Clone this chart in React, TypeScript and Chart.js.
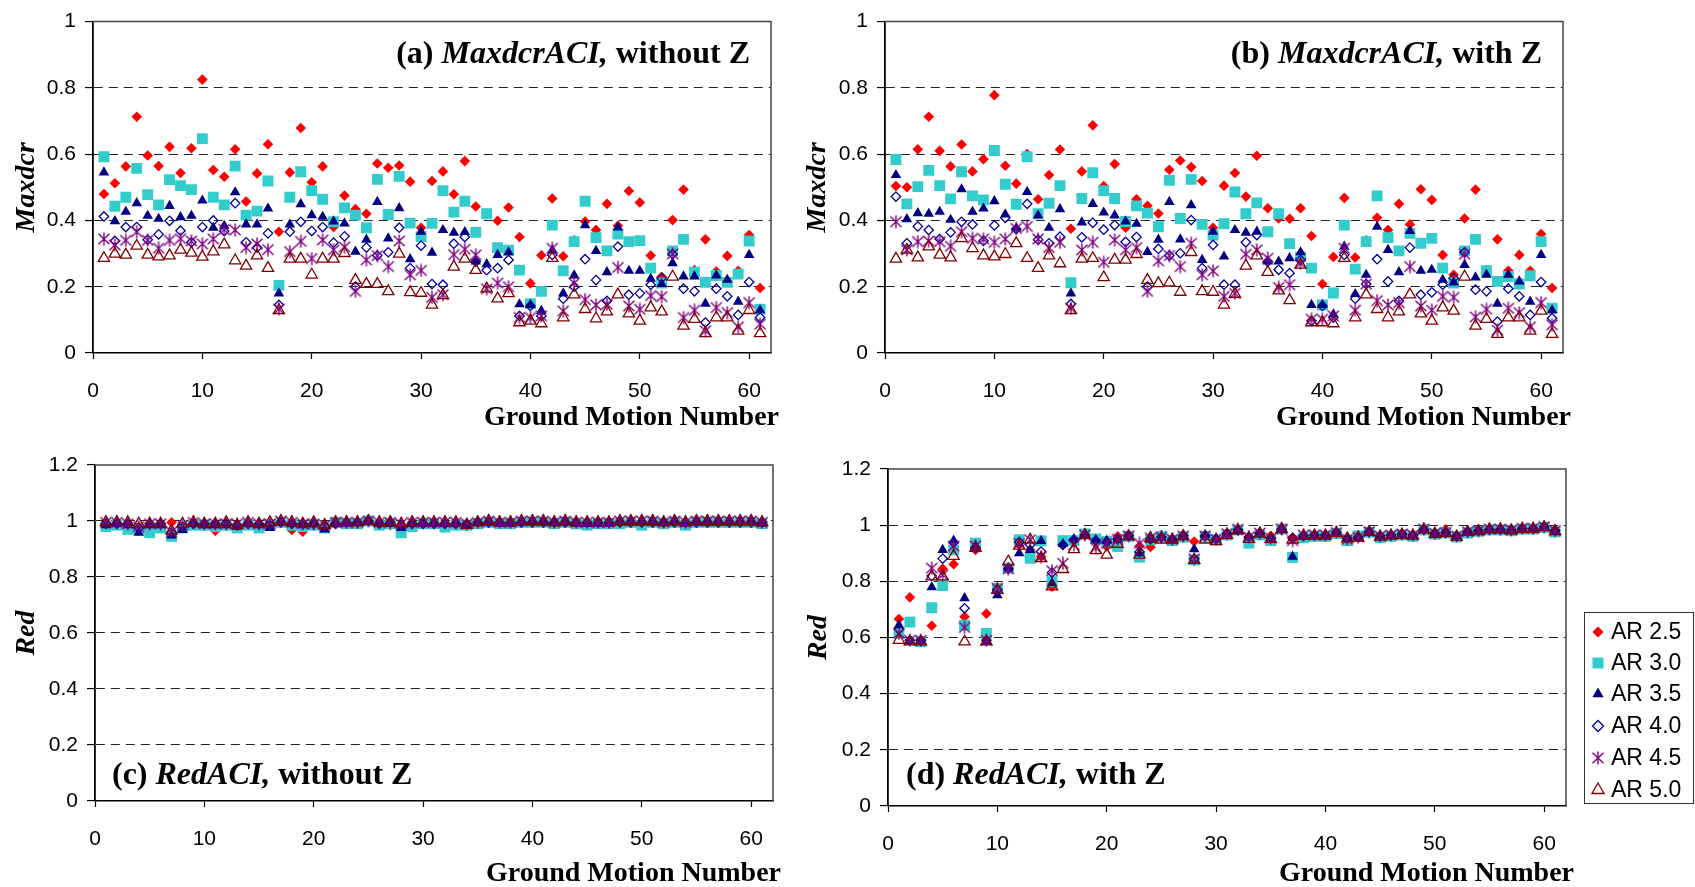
import React, { useEffect, useRef } from 'react';
import { Chart, registerables } from 'chart.js';

Chart.register(...registerables);

// ---------------- data ----------------
const groundMotionNumbers = [
  1, 2, 3, 4, 5, 6, 7, 8, 9, 10, 11, 12, 13, 14, 15, 16, 17, 18, 19, 20,
  21, 22, 23, 24, 25, 26, 27, 28, 29, 30, 31, 32, 33, 34, 35, 36, 37, 38, 39, 40,
  41, 42, 43, 44, 45, 46, 47, 48, 49, 50, 51, 52, 53, 54, 55, 56, 57, 58, 59, 60, 61,
];

const seriesLabels = ['AR 2.5', 'AR 3.0', 'AR 3.5', 'AR 4.0', 'AR 4.5', 'AR 5.0'];

// (a) MaxdcrACI, without Z
const maxdcrNoZ_AR25 = [0.48,0.512,0.563,0.713,0.596,0.564,0.622,0.543,0.618,0.825,0.552,0.532,0.615,0.457,0.542,0.63,0.366,0.545,0.679,0.515,0.563,0.38,0.475,0.434,0.42,0.572,0.559,0.566,0.517,0.378,0.519,0.548,0.479,0.579,0.442,0.42,0.399,0.439,0.35,0.21,0.295,0.466,0.292,0.34,0.397,0.371,0.45,0.384,0.489,0.454,0.294,0.23,0.401,0.493,0.25,0.343,0.246,0.293,0.248,0.356,0.196];
const maxdcrNoZ_AR30 = [0.592,0.443,0.47,0.557,0.478,0.447,0.523,0.505,0.493,0.647,0.47,0.447,0.564,0.416,0.428,0.519,0.204,0.47,0.547,0.49,0.464,0.396,0.438,0.416,0.378,0.524,0.418,0.533,0.392,0.351,0.391,0.49,0.425,0.458,0.364,0.42,0.318,0.31,0.25,0.149,0.186,0.386,0.248,0.336,0.458,0.348,0.308,0.359,0.336,0.339,0.256,0.211,0.308,0.343,0.244,0.213,0.234,0.213,0.238,0.338,0.132];
const maxdcrNoZ_AR35 = [0.545,0.398,0.426,0.452,0.414,0.405,0.444,0.41,0.414,0.46,0.378,0.384,0.485,0.388,0.388,0.436,0.18,0.388,0.449,0.416,0.411,0.397,0.391,0.306,0.342,0.456,0.346,0.437,0.283,0.366,0.303,0.371,0.363,0.365,0.276,0.268,0.296,0.304,0.147,0.145,0.127,0.31,0.18,0.234,0.386,0.308,0.244,0.379,0.248,0.248,0.224,0.208,0.271,0.231,0.231,0.149,0.234,0.221,0.155,0.296,0.129];
const maxdcrNoZ_AR40 = [0.412,0.338,0.38,0.38,0.342,0.358,0.399,0.369,0.334,0.38,0.4,0.368,0.452,0.334,0.318,0.361,0.145,0.366,0.396,0.368,0.38,0.333,0.352,0.2,0.318,0.294,0.304,0.378,0.256,0.324,0.208,0.206,0.33,0.35,0.276,0.25,0.256,0.281,0.112,0.142,0.112,0.296,0.164,0.2,0.283,0.22,0.157,0.321,0.176,0.18,0.206,0.226,0.298,0.194,0.186,0.092,0.194,0.171,0.115,0.214,0.107];
const maxdcrNoZ_AR45 = [0.344,0.326,0.34,0.366,0.34,0.316,0.34,0.345,0.338,0.329,0.344,0.373,0.371,0.318,0.329,0.312,0.133,0.306,0.337,0.285,0.341,0.311,0.32,0.186,0.281,0.294,0.261,0.338,0.236,0.249,0.168,0.176,0.297,0.313,0.296,0.194,0.211,0.2,0.107,0.107,0.112,0.316,0.127,0.211,0.161,0.145,0.147,0.258,0.142,0.132,0.173,0.17,0.299,0.107,0.129,0.067,0.137,0.122,0.079,0.152,0.087];
const maxdcrNoZ_AR50 = [0.286,0.299,0.296,0.323,0.296,0.291,0.294,0.311,0.302,0.29,0.306,0.327,0.279,0.263,0.294,0.256,0.129,0.284,0.284,0.236,0.284,0.284,0.301,0.22,0.208,0.208,0.186,0.299,0.183,0.181,0.145,0.174,0.26,0.284,0.25,0.194,0.164,0.18,0.092,0.097,0.089,0.286,0.107,0.176,0.132,0.104,0.125,0.176,0.119,0.097,0.137,0.125,0.23,0.082,0.102,0.059,0.107,0.107,0.067,0.129,0.059];

// (b) MaxdcrACI, with Z
const maxdcrZ_AR25 = [0.504,0.5,0.615,0.713,0.61,0.563,0.629,0.548,0.585,0.778,0.565,0.511,0.6,0.464,0.537,0.614,0.375,0.548,0.687,0.504,0.57,0.378,0.464,0.444,0.421,0.553,0.581,0.561,0.519,0.378,0.505,0.543,0.472,0.595,0.437,0.406,0.405,0.437,0.353,0.208,0.29,0.468,0.288,0.34,0.408,0.371,0.45,0.388,0.494,0.462,0.296,0.236,0.406,0.493,0.25,0.343,0.248,0.296,0.248,0.359,0.196];
const maxdcrZ_AR30 = [0.584,0.45,0.502,0.551,0.505,0.465,0.547,0.474,0.462,0.611,0.509,0.449,0.592,0.42,0.452,0.505,0.212,0.466,0.544,0.49,0.466,0.397,0.444,0.422,0.381,0.521,0.406,0.524,0.388,0.356,0.39,0.486,0.42,0.453,0.366,0.42,0.33,0.29,0.256,0.145,0.181,0.386,0.253,0.336,0.474,0.348,0.308,0.361,0.331,0.346,0.256,0.211,0.308,0.343,0.248,0.216,0.231,0.208,0.233,0.336,0.135];
const maxdcrZ_AR35 = [0.537,0.404,0.422,0.42,0.426,0.402,0.494,0.426,0.436,0.458,0.418,0.376,0.486,0.415,0.378,0.434,0.18,0.394,0.45,0.424,0.415,0.397,0.39,0.305,0.342,0.456,0.343,0.446,0.281,0.366,0.291,0.371,0.363,0.366,0.276,0.276,0.286,0.304,0.145,0.145,0.117,0.321,0.178,0.236,0.381,0.311,0.244,0.368,0.248,0.251,0.221,0.213,0.266,0.228,0.236,0.149,0.236,0.216,0.155,0.296,0.129];
const maxdcrZ_AR40 = [0.472,0.331,0.382,0.371,0.344,0.364,0.396,0.388,0.338,0.385,0.408,0.374,0.45,0.342,0.331,0.351,0.148,0.349,0.393,0.372,0.386,0.335,0.35,0.2,0.314,0.294,0.301,0.401,0.256,0.326,0.206,0.206,0.334,0.356,0.276,0.251,0.241,0.281,0.097,0.142,0.107,0.296,0.164,0.208,0.283,0.216,0.157,0.318,0.176,0.183,0.206,0.226,0.304,0.191,0.186,0.095,0.194,0.171,0.115,0.214,0.105];
const maxdcrZ_AR45 = [0.396,0.311,0.336,0.338,0.336,0.322,0.366,0.346,0.344,0.334,0.344,0.376,0.382,0.344,0.318,0.334,0.135,0.311,0.334,0.274,0.341,0.311,0.318,0.186,0.278,0.294,0.261,0.331,0.236,0.248,0.171,0.18,0.298,0.311,0.286,0.198,0.206,0.271,0.102,0.102,0.112,0.316,0.129,0.208,0.158,0.145,0.152,0.261,0.142,0.129,0.171,0.168,0.298,0.109,0.132,0.069,0.135,0.122,0.079,0.152,0.085];
const maxdcrZ_AR50 = [0.284,0.311,0.288,0.321,0.296,0.288,0.346,0.316,0.294,0.291,0.298,0.331,0.286,0.256,0.294,0.27,0.129,0.284,0.286,0.228,0.281,0.281,0.298,0.22,0.21,0.212,0.184,0.304,0.186,0.184,0.145,0.178,0.263,0.294,0.244,0.188,0.159,0.266,0.092,0.092,0.089,0.286,0.107,0.176,0.132,0.107,0.125,0.176,0.119,0.097,0.137,0.127,0.23,0.082,0.102,0.057,0.107,0.107,0.067,0.127,0.057];

// (c) RedACI, without Z
const redNoZ_AR25 = [0.99,0.99,0.99,0.98,0.98,0.99,0.995,0.98,0.99,0.985,0.965,0.985,0.98,0.99,0.985,0.99,0.995,0.968,0.962,0.99,0.985,0.99,0.995,0.995,1.0,0.985,0.985,0.985,0.99,0.99,0.99,0.99,0.99,0.985,0.995,1.0,0.995,0.995,1.0,1.0,1.0,0.995,1.0,0.995,0.995,0.995,0.99,0.995,1.0,1.0,1.0,0.995,1.0,0.995,1.0,1.0,1.0,1.0,1.0,1.0,0.995];
const redNoZ_AR30 = [0.98,0.985,0.97,0.97,0.958,0.975,0.945,0.975,0.985,0.985,0.98,0.985,0.975,0.985,0.975,0.985,0.995,0.985,0.98,0.985,0.975,0.995,0.99,0.99,1.0,0.985,0.99,0.958,0.98,0.99,0.99,0.978,0.985,0.985,0.99,0.995,0.99,0.99,0.995,0.995,0.995,0.99,0.995,0.99,0.985,0.99,0.99,0.99,0.995,0.985,0.995,0.99,0.995,0.985,0.995,0.995,0.995,0.995,0.995,0.995,0.99];
const redNoZ_AR35 = [0.985,0.99,0.985,0.958,0.985,0.985,0.948,0.968,0.99,0.985,0.985,0.985,0.98,0.99,0.985,0.975,0.995,0.99,0.985,0.99,0.97,0.99,0.99,0.995,1.0,0.99,0.99,0.975,0.99,0.99,0.99,0.99,0.99,0.985,0.995,0.995,0.99,0.99,0.995,0.995,0.995,0.995,0.995,0.99,0.99,0.99,0.99,0.995,0.995,0.995,0.995,0.995,0.995,0.99,0.995,0.995,0.995,0.995,0.995,0.995,0.99];
const redNoZ_AR40 = [0.99,0.99,0.99,0.975,0.99,0.99,0.958,0.98,0.99,0.99,0.99,0.99,0.985,0.99,0.99,0.985,0.995,0.99,0.99,0.99,0.98,0.99,0.995,0.995,1.0,0.99,0.995,0.985,0.99,0.99,0.99,0.99,0.99,0.99,0.995,0.995,0.995,0.995,0.995,0.995,0.995,0.995,0.995,0.995,0.995,0.995,0.995,0.995,0.995,0.995,0.995,0.995,0.995,0.995,0.995,0.995,0.995,0.995,0.995,0.995,0.995];
const redNoZ_AR45 = [0.995,0.995,0.99,0.98,0.99,0.99,0.962,0.985,0.995,0.99,0.99,0.99,0.99,0.995,0.99,0.99,1.0,0.995,0.99,0.99,0.985,0.995,0.995,0.995,1.0,0.995,0.995,0.99,0.995,0.995,0.995,0.995,0.995,0.99,0.995,1.0,0.995,0.995,1.0,1.0,1.0,0.995,1.0,0.995,0.995,0.995,0.995,1.0,1.0,1.0,1.0,0.995,1.0,0.995,1.0,1.0,1.0,1.0,1.0,1.0,0.995];
const redNoZ_AR50 = [0.995,0.995,0.995,0.99,0.99,0.99,0.965,0.99,0.995,0.99,0.99,0.995,0.985,0.995,0.99,0.995,1.0,0.995,0.99,0.995,0.985,0.995,0.995,0.995,1.0,0.995,0.995,0.99,0.995,0.995,0.995,0.995,0.995,0.985,0.995,1.0,0.995,0.995,1.0,1.0,1.0,0.995,1.0,0.995,0.995,0.995,0.995,1.0,1.0,1.0,1.0,0.995,1.0,0.995,1.0,1.0,1.0,1.0,1.0,1.0,0.995];

// (d) RedACI, with Z
const redZ_AR25 = [0.666,0.743,0.59,0.642,0.845,0.861,0.674,0.912,0.685,0.775,0.847,0.93,0.912,0.888,0.781,0.93,0.948,0.965,0.948,0.924,0.96,0.965,0.926,0.922,0.965,0.948,0.965,0.942,0.96,0.954,0.971,0.983,0.957,0.971,0.962,0.986,0.95,0.955,0.965,0.965,0.974,0.954,0.965,0.977,0.962,0.965,0.969,0.965,0.986,0.971,0.985,0.962,0.977,0.981,0.986,0.986,0.983,0.989,0.989,0.995,0.981];
const redZ_AR30 = [0.615,0.655,0.585,0.706,0.785,0.912,0.644,0.936,0.615,0.775,0.847,0.948,0.882,0.944,0.799,0.945,0.945,0.969,0.951,0.942,0.924,0.96,0.886,0.948,0.96,0.945,0.957,0.876,0.96,0.948,0.965,0.983,0.936,0.965,0.945,0.986,0.885,0.955,0.96,0.96,0.97,0.945,0.962,0.975,0.955,0.96,0.965,0.96,0.983,0.968,0.972,0.958,0.972,0.978,0.983,0.983,0.98,0.986,0.986,0.992,0.976];
const redZ_AR35 = [0.644,0.587,0.587,0.779,0.912,0.945,0.74,0.926,0.587,0.751,0.847,0.9,0.912,0.944,0.793,0.933,0.95,0.965,0.948,0.945,0.95,0.962,0.9,0.948,0.957,0.95,0.962,0.914,0.965,0.952,0.971,0.983,0.96,0.974,0.954,0.986,0.888,0.962,0.965,0.965,0.974,0.954,0.957,0.977,0.962,0.965,0.969,0.965,0.986,0.971,0.974,0.962,0.977,0.981,0.986,0.986,0.983,0.989,0.989,0.995,0.981];
const redZ_AR40 = [0.629,0.59,0.59,0.819,0.881,0.938,0.704,0.92,0.59,0.77,0.845,0.94,0.93,0.906,0.831,0.93,0.948,0.965,0.945,0.94,0.95,0.962,0.905,0.95,0.957,0.95,0.962,0.88,0.962,0.95,0.97,0.983,0.958,0.972,0.954,0.985,0.955,0.962,0.965,0.965,0.974,0.954,0.957,0.977,0.962,0.965,0.969,0.965,0.985,0.971,0.974,0.962,0.977,0.981,0.985,0.985,0.983,0.988,0.988,0.994,0.981];
const redZ_AR45 = [0.615,0.59,0.59,0.847,0.823,0.926,0.636,0.926,0.59,0.775,0.845,0.935,0.948,0.888,0.838,0.864,0.93,0.965,0.92,0.935,0.95,0.962,0.935,0.955,0.957,0.95,0.962,0.88,0.962,0.95,0.97,0.985,0.958,0.972,0.954,0.986,0.945,0.965,0.965,0.965,0.974,0.95,0.957,0.977,0.962,0.965,0.969,0.965,0.986,0.971,0.974,0.962,0.977,0.981,0.986,0.986,0.983,0.989,0.989,0.995,0.981];
const redZ_AR50 = [0.591,0.585,0.585,0.817,0.817,0.89,0.585,0.918,0.585,0.769,0.87,0.926,0.948,0.882,0.781,0.843,0.914,0.965,0.91,0.894,0.933,0.96,0.894,0.954,0.948,0.948,0.96,0.876,0.948,0.942,0.965,0.981,0.95,0.969,0.95,0.986,0.948,0.962,0.962,0.962,0.972,0.952,0.955,0.975,0.958,0.962,0.965,0.962,0.984,0.968,0.972,0.958,0.975,0.978,0.984,0.984,0.981,0.986,0.986,0.992,0.978];

// ---------------- styling ----------------
const SERIF = '"Liberation Serif", "Times New Roman", serif';
const SANS = '"Liberation Sans", Arial, sans-serif';
const C_RED = '#FF0000';
const C_CYAN = '#33CCCC';
const C_NAVY = '#000080';
const C_DIAM = '#000099';
const C_PURPLE = '#800080';
const C_MAROON = '#800000';

let starCanvas: HTMLCanvasElement | null = null;
function getStar(): HTMLCanvasElement {
  if (starCanvas) return starCanvas;
  const c = document.createElement('canvas');
  c.width = 14;
  c.height = 14;
  const g = c.getContext('2d')!;
  g.strokeStyle = C_PURPLE;
  g.lineWidth = 1.4;
  g.lineCap = 'butt';
  g.beginPath();
  g.moveTo(7, 0.5);
  g.lineTo(7, 13.5);
  g.moveTo(1.5, 1.8);
  g.lineTo(12.5, 12.2);
  g.moveTo(12.5, 1.8);
  g.lineTo(1.5, 12.2);
  g.stroke();
  starCanvas = c;
  return c;
}

function seriesStyle(i: number): any {
  switch (i) {
    case 0: return { pointStyle: 'rectRot', pointRadius: 5.3, backgroundColor: C_RED, borderColor: C_RED, borderWidth: 0 };
    case 1: return { pointStyle: 'rect', pointRadius: 7.7, backgroundColor: C_CYAN, borderColor: C_CYAN, borderWidth: 0 };
    case 2: return { pointStyle: 'triangle', pointRadius: 6.1, backgroundColor: C_NAVY, borderColor: C_NAVY, borderWidth: 0 };
    case 3: return { pointStyle: 'rectRot', pointRadius: 4.7, backgroundColor: 'rgba(0,0,0,0)', borderColor: C_DIAM, borderWidth: 1.3 };
    case 4: return { pointStyle: getStar(), pointRadius: 7, backgroundColor: C_PURPLE, borderColor: C_PURPLE, borderWidth: 0 };
    default: return { pointStyle: 'triangle', pointRadius: 6.5, backgroundColor: 'rgba(0,0,0,0)', borderColor: C_MAROON, borderWidth: 1.3 };
  }
}

type Panel = {
  key: string;
  left: number; top: number; width: number; height: number;
  yW: number; xH: number; padTop: number; padRight: number;
  ymax: number; yTitle: string; yTitleX: number; xTitleY: number;
  title: string[]; titleAlign: 'left' | 'right'; titleX: number; titleY: number;
  series: number[][]; legend: boolean;
};

const panels: Panel[] = [
  {
    key: 'a', left: 0, top: 0, width: 790, height: 440, yW: 93, xH: 87, padTop: 18, padRight: 19,
    ymax: 1, yTitle: 'Maxdcr', yTitleX: 27, xTitleY: 418,
    title: ['(a) ', 'MaxdcrACI,', ' without Z'], titleAlign: 'right', titleX: 750, titleY: 63,
    series: [maxdcrNoZ_AR25, maxdcrNoZ_AR30, maxdcrNoZ_AR35, maxdcrNoZ_AR40, maxdcrNoZ_AR45, maxdcrNoZ_AR50], legend: false,
  },
  {
    key: 'b', left: 790, top: 0, width: 905, height: 440, yW: 95, xH: 87, padTop: 18, padRight: 132,
    ymax: 1, yTitle: 'Maxdcr', yTitleX: 28, xTitleY: 418,
    title: ['(b) ', 'MaxdcrACI,', ' with Z'], titleAlign: 'right', titleX: 752, titleY: 63,
    series: [maxdcrZ_AR25, maxdcrZ_AR30, maxdcrZ_AR35, maxdcrZ_AR40, maxdcrZ_AR45, maxdcrZ_AR50], legend: false,
  },
  {
    key: 'c', left: 0, top: 440, width: 790, height: 447, yW: 95, xH: 86, padTop: 25, padRight: 17,
    ymax: 1.2, yTitle: 'Red', yTitleX: 27, xTitleY: 434,
    title: ['(c) ', 'RedACI,', ' without Z'], titleAlign: 'left', titleX: 112, titleY: 344,
    series: [redNoZ_AR25, redNoZ_AR30, redNoZ_AR35, redNoZ_AR40, redNoZ_AR45, redNoZ_AR50], legend: false,
  },
  {
    key: 'd', left: 790, top: 440, width: 905, height: 447, yW: 98, xH: 81, padTop: 29, padRight: 129,
    ymax: 1.2, yTitle: 'Red', yTitleX: 29, xTitleY: 434,
    title: ['(d) ', 'RedACI,', ' with Z'], titleAlign: 'left', titleX: 116, titleY: 344,
    series: [redZ_AR25, redZ_AR30, redZ_AR35, redZ_AR40, redZ_AR45, redZ_AR50], legend: true,
  },
];

function drawLegendMarker(ctx: CanvasRenderingContext2D, i: number, x: number, y: number) {
  ctx.save();
  ctx.beginPath();
  if (i === 0) {
    const r = 5.5;
    ctx.moveTo(x - r, y); ctx.lineTo(x, y - r); ctx.lineTo(x + r, y); ctx.lineTo(x, y + r); ctx.closePath();
    ctx.fillStyle = C_RED; ctx.fill();
  } else if (i === 1) {
    ctx.fillStyle = C_CYAN; ctx.fillRect(x - 5.5, y - 5.5, 11, 11);
  } else if (i === 2) {
    const r = 6.5;
    ctx.moveTo(x, y - r); ctx.lineTo(x + r * 0.866, y + r / 2); ctx.lineTo(x - r * 0.866, y + r / 2); ctx.closePath();
    ctx.fillStyle = C_NAVY; ctx.fill();
  } else if (i === 3) {
    const r = 5.5;
    ctx.moveTo(x - r, y); ctx.lineTo(x, y - r); ctx.lineTo(x + r, y); ctx.lineTo(x, y + r); ctx.closePath();
    ctx.strokeStyle = C_DIAM; ctx.lineWidth = 1.3; ctx.stroke();
  } else if (i === 4) {
    const s = getStar();
    ctx.drawImage(s, x - s.width / 2, y - s.height / 2);
  } else {
    const r = 7;
    ctx.moveTo(x, y - r); ctx.lineTo(x + r * 0.866, y + r / 2); ctx.lineTo(x - r * 0.866, y + r / 2); ctx.closePath();
    ctx.strokeStyle = C_MAROON; ctx.lineWidth = 1.3; ctx.stroke();
  }
  ctx.restore();
}

function decorPlugin(p: Panel) {
  return {
    id: 'decor_' + p.key,
    beforeDatasetsDraw(chart: any) {
      const { ctx, chartArea: a } = chart;
      ctx.save();
      ctx.strokeStyle = '#444';
      ctx.lineWidth = 1.5;
      ctx.beginPath();
      ctx.moveTo(a.left, a.top);
      ctx.lineTo(a.right, a.top);
      ctx.lineTo(a.right, a.bottom);
      ctx.stroke();
      ctx.restore();
    },
    afterDraw(chart: any) {
      const { ctx, chartArea: a } = chart;
      ctx.save();
      ctx.fillStyle = '#000';
      // y-axis title
      ctx.save();
      ctx.translate(p.yTitleX, (a.top + a.bottom) / 2);
      ctx.rotate(-Math.PI / 2);
      ctx.font = `italic bold 28px ${SERIF}`;
      ctx.textAlign = 'center';
      ctx.textBaseline = 'middle';
      ctx.fillText(p.yTitle, 0, 0);
      ctx.restore();
      // x-axis title
      ctx.font = `bold 28px ${SERIF}`;
      ctx.textAlign = 'right';
      ctx.textBaseline = 'middle';
      ctx.fillText('Ground Motion Number', a.right + 8, p.xTitleY);
      // panel title
      const fonts = [`bold 32px ${SERIF}`, `italic bold 32px ${SERIF}`, `bold 32px ${SERIF}`];
      let total = 0;
      const widths = p.title.map((t, i) => { ctx.font = fonts[i]; const w = ctx.measureText(t).width; total += w; return w; });
      let x = p.titleAlign === 'right' ? p.titleX - total : p.titleX;
      ctx.textAlign = 'left';
      ctx.textBaseline = 'alphabetic';
      p.title.forEach((t, i) => { ctx.font = fonts[i]; ctx.fillText(t, x, p.titleY); x += widths[i]; });
      // legend
      if (p.legend) {
        const bx = 794, by = 172, bw = 109, bh = 191;
        ctx.fillStyle = '#fff';
        ctx.fillRect(bx, by, bw, bh);
        ctx.strokeStyle = '#333';
        ctx.lineWidth = 1;
        ctx.strokeRect(bx + 0.5, by + 0.5, bw, bh);
        const rows = [192, 223, 254, 286, 318, 350];
        ctx.font = `23px ${SANS}`;
        ctx.textBaseline = 'middle';
        ctx.textAlign = 'left';
        seriesLabels.forEach((lab, i) => {
          drawLegendMarker(ctx, i, 808, rows[i]);
          ctx.fillStyle = '#000';
          ctx.fillText(lab, 821, rows[i] + 1);
        });
      }
      ctx.restore();
    },
  };
}

function buildConfig(p: Panel): any {
  const tickFont = { family: SANS, size: 21 };
  return {
    type: 'scatter',
    data: {
      datasets: p.series.map((vals, i) => ({
        label: seriesLabels[i],
        data: groundMotionNumbers.map((g, j) => ({ x: g, y: vals[j] })),
        order: 5 - i,
        showLine: false,
        ...seriesStyle(i),
      })),
    },
    options: {
      animation: false,
      responsive: false,
      maintainAspectRatio: false,
      devicePixelRatio: 1,
      events: [],
      layout: { padding: { left: 0, top: p.padTop, right: p.padRight, bottom: 0 } },
      plugins: { legend: { display: false }, tooltip: { enabled: false }, title: { display: false } },
      scales: {
        x: {
          type: 'linear',
          min: 0,
          max: 62,
          ticks: { stepSize: 10, includeBounds: false, font: tickFont, color: '#000', padding: 20, maxRotation: 0, autoSkip: false },
          grid: { drawOnChartArea: false, drawTicks: true, tickLength: 6, tickColor: '#000', tickWidth: 1.2 },
          border: { display: true, color: '#000', width: 1.6 },
          afterFit: (s: any) => { s.height = p.xH; },
        },
        y: {
          type: 'linear',
          min: 0,
          max: p.ymax,
          ticks: {
            stepSize: 0.2,
            font: tickFont,
            color: '#000',
            padding: 9,
            callback: (v: number) => String(Number(Number(v).toFixed(1))),
          },
          grid: {
            color: (ctx: any) => {
              const v = ctx.tick ? ctx.tick.value : 0;
              return v > 0.001 && v < p.ymax - 0.001 ? '#222' : 'rgba(0,0,0,0)';
            },
            lineWidth: 1.1,
            drawTicks: true,
            tickLength: 8,
            tickColor: '#000',
            tickWidth: 1.2,
          },
          border: { display: true, color: '#000', width: 1.8, dash: [9, 6] },
          afterFit: (s: any) => { s.width = p.yW; },
        },
      },
    },
    plugins: [decorPlugin(p)],
  };
}

function PanelChart({ p }: { p: Panel }) {
  const ref = useRef<HTMLCanvasElement | null>(null);
  useEffect(() => {
    if (!ref.current) return;
    const chart = new Chart(ref.current, buildConfig(p));
    return () => chart.destroy();
  }, [p]);
  return (
    <canvas
      ref={ref}
      width={p.width}
      height={p.height}
      style={{ position: 'absolute', left: p.left, top: p.top, width: p.width, height: p.height }}
    />
  );
}

export default function App() {
  return (
    <div style={{ position: 'absolute', left: 0, top: 0, width: 1695, height: 887, background: '#fff', overflow: 'hidden' }}>
      {panels.map((p) => (
        <PanelChart key={p.key} p={p} />
      ))}
    </div>
  );
}
